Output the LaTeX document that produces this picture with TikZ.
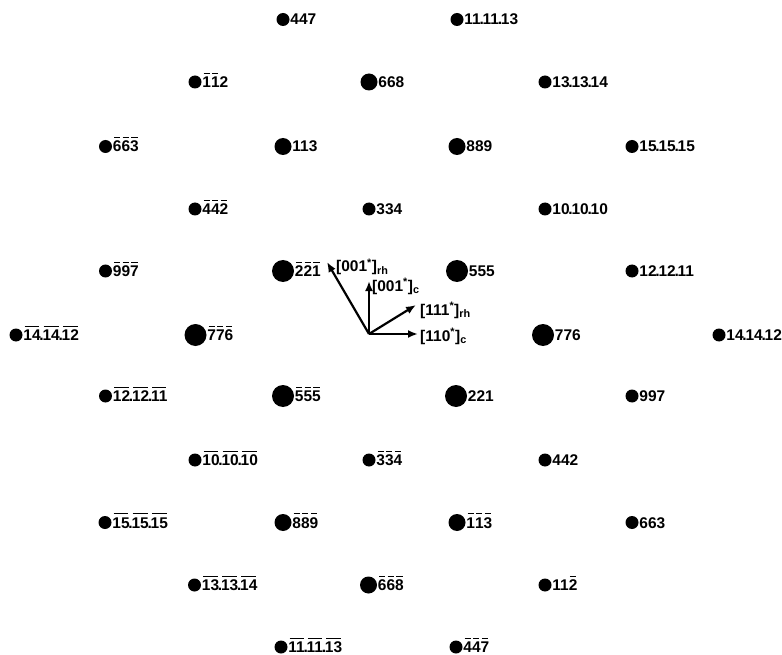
\documentclass[tikz,border=0pt]{standalone}
\usepackage{amsmath}
\usepackage{fontspec}
\setmainfont{Liberation Sans}
\usetikzlibrary{arrows.meta, positioning}
\newsavebox{\barbox}
\newcommand{\negbar}[1]{\leavevmode\sbox{\barbox}{#1}%
  \rlap{\kern1.2pt\rule[13.6pt]{\dimexpr\wd\barbox-2.4pt\relax}{1.3pt}}\usebox{\barbox}}
\newcommand{\dsep}{\kern-1.2pt.\kern-1.2pt}
\newcommand{\recip}[2]{[#1$^{\text{*}}$]$_{\text{#2}}$}

\begin{document}
\begin{tikzpicture}[x=1pt, y=-1pt,
    spot/.style={circle, fill=black, inner sep=0pt},
    weak/.style={spot, minimum size=13pt},
    medium/.style={spot, minimum size=17pt},
    strong/.style={spot, minimum size=22pt},
    hkl/.style={inner sep=0pt, text height=11pt, text depth=0pt, font=\fontsize{15.5}{18}\selectfont\bfseries},
    axis/.style={line width=2.2pt, -{Latex[length=10pt,width=8pt]}},
    axlabel/.style={inner sep=0pt, anchor=base west, font=\fontsize{15.5}{18}\selectfont\bfseries}
  ]
    \useasboundingbox (0,0) rectangle (782,655);

    % row 1
    \node[weak] (s447) at (283,19.5) {};
    \node[hkl, right=0.5pt of s447] (l447) {447};
    \node[weak] (s111113) at (457,19.5) {};
    \node[hkl, right=0.5pt of s111113] (l111113) {11\dsep 11\dsep 13};

    % row 2
    \node[weak] (sn112) at (195,82) {};
    \node[hkl, right=0.5pt of sn112] (ln112) {\negbar{1}\negbar{1}2};
    \node[medium] (s668) at (369,82) {};
    \node[hkl, right=0.5pt of s668] (l668) {668};
    \node[weak] (s131314) at (545,82) {};
    \node[hkl, right=0.5pt of s131314] (l131314) {13\dsep 13\dsep 14};

    % row 3
    \node[weak] (sn663) at (105.5,146.5) {};
    \node[hkl, right=0.5pt of sn663] (ln663) {\negbar{6}\negbar{6}\negbar{3}};
    \node[medium] (s113) at (283,146.5) {};
    \node[hkl, right=0.5pt of s113] (l113) {113};
    \node[medium] (s889) at (457,146.5) {};
    \node[hkl, right=0.5pt of s889] (l889) {889};
    \node[weak] (s151515) at (632,146.5) {};
    \node[hkl, right=0.5pt of s151515] (l151515) {15\dsep 15\dsep 15};

    % row 4
    \node[weak] (sn442) at (195,209) {};
    \node[hkl, right=0.5pt of sn442] (ln442) {\negbar{4}\negbar{4}\negbar{2}};
    \node[weak] (s334) at (369,209) {};
    \node[hkl, right=0.5pt of s334] (l334) {334};
    \node[weak] (s101010) at (545,209) {};
    \node[hkl, right=0.5pt of s101010] (l101010) {10\dsep 10\dsep 10};

    % row 5
    \node[weak] (sn997) at (105.5,271) {};
    \node[hkl, right=0.5pt of sn997] (ln997) {\negbar{9}\negbar{9}\negbar{7}};
    \node[strong] (sn221) at (283,271) {};
    \node[hkl, right=0.5pt of sn221] (ln221) {\negbar{2}\negbar{2}\negbar{1}};
    \node[strong] (s555) at (457,271) {};
    \node[hkl, right=0.5pt of s555] (l555) {555};
    \node[weak] (s121211) at (632,271) {};
    \node[hkl, right=0.5pt of s121211] (l121211) {12\dsep 12\dsep 11};

    % row 6
    \node[weak] (sn141412) at (16,335) {};
    \node[hkl, right=0.5pt of sn141412] (ln141412) {\negbar{14}\dsep\negbar{14}\dsep\negbar{12}};
    \node[strong] (sn776) at (195.5,335) {};
    \node[hkl, right=0.5pt of sn776] (ln776) {\negbar{7}\negbar{7}\negbar{6}};
    \node[strong] (s776) at (543,335) {};
    \node[hkl, right=0.5pt of s776] (l776) {776};
    \node[weak] (s141412) at (719,335) {};
    \node[hkl, right=0.5pt of s141412] (l141412) {14\dsep 14\dsep 12};

    % row 7
    \node[weak] (sn121211) at (105.5,396) {};
    \node[hkl, right=0.5pt of sn121211] (ln121211) {\negbar{12}\dsep\negbar{12}\dsep\negbar{11}};
    \node[strong] (sn555) at (283,396) {};
    \node[hkl, right=0.5pt of sn555] (ln555) {\negbar{5}\negbar{5}\negbar{5}};
    \node[strong] (s221) at (456,396) {};
    \node[hkl, right=0.5pt of s221] (l221) {221};
    \node[weak] (s997) at (632,396) {};
    \node[hkl, right=0.5pt of s997] (l997) {997};

    % row 8
    \node[weak] (sn101010) at (195,460) {};
    \node[hkl, right=0.5pt of sn101010] (ln101010) {\negbar{10}\dsep\negbar{10}\dsep\negbar{10}};
    \node[weak] (sn334) at (369,460) {};
    \node[hkl, right=0.5pt of sn334] (ln334) {\negbar{3}\negbar{3}\negbar{4}};
    \node[weak] (s442) at (545,460) {};
    \node[hkl, right=0.5pt of s442] (l442) {442};

    % row 9
    \node[weak] (sn151515) at (105,522.5) {};
    \node[hkl, right=0.5pt of sn151515] (ln151515) {\negbar{15}\dsep\negbar{15}\dsep\negbar{15}};
    \node[medium] (sn889) at (283,522.5) {};
    \node[hkl, right=0.5pt of sn889] (ln889) {\negbar{8}\negbar{8}\negbar{9}};
    \node[medium] (sn113) at (457,522.5) {};
    \node[hkl, right=0.5pt of sn113] (ln113) {\negbar{1}\negbar{1}\negbar{3}};
    \node[weak] (s663) at (632,522.5) {};
    \node[hkl, right=0.5pt of s663] (l663) {663};

    % row 10
    \node[weak] (sn131314) at (194.5,585) {};
    \node[hkl, right=0.5pt of sn131314] (ln131314) {\negbar{13}\dsep\negbar{13}\dsep\negbar{14}};
    \node[medium] (sn668) at (368.5,585) {};
    \node[hkl, right=0.5pt of sn668] (ln668) {\negbar{6}\negbar{6}\negbar{8}};
    \node[weak] (s112) at (545,585) {};
    \node[hkl, right=0.5pt of s112] (l112) {11\negbar{2}};

    % row 11
    \node[weak] (sn111113) at (281,647) {};
    \node[hkl, right=0.5pt of sn111113] (ln111113) {\negbar{11}\dsep\negbar{11}\dsep\negbar{13}};
    \node[weak] (sn447) at (456,647) {};
    \node[hkl, right=0.5pt of sn447] (ln447) {\negbar{4}\negbar{4}\negbar{7}};

    % reciprocal axes
    \coordinate (o) at (369,334);
    \coordinate (rh001) at (327,262);
    \coordinate (c001) at (369,281);
    \coordinate (rh111) at (416,305);
    \coordinate (c110) at (418,334);
    \draw[axis] (o) -- (rh001);
    \draw[axis] (o) -- (c001);
    \draw[axis] (o) -- (rh111);
    \draw[axis] (o) -- (c110);
    \node[axlabel] (lrh001) at (336,272) {\recip{001}{rh}};
    \node[axlabel] (lc001) at (372,291) {\recip{001}{c}};
    \node[axlabel] (lrh111) at (420,315) {\recip{111}{rh}};
    \node[axlabel] (lc110) at (420,341) {\recip{110}{c}};
  \end{tikzpicture}
\end{document}
